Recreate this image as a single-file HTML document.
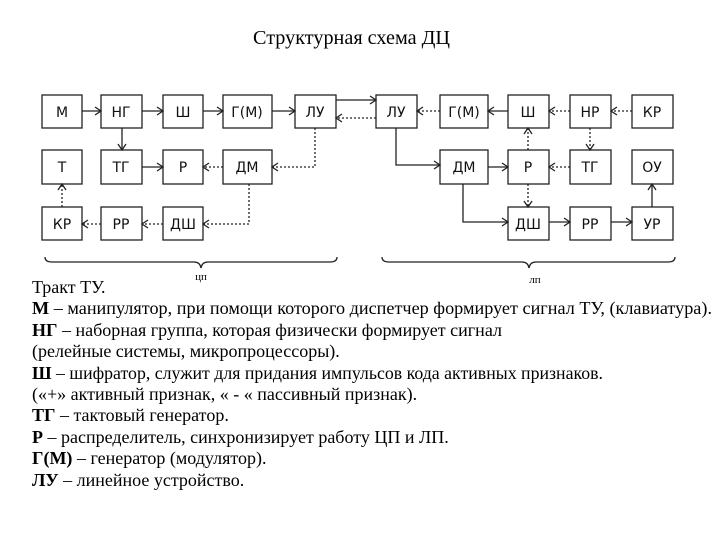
<!DOCTYPE html>
<html><head><meta charset="utf-8"><style>
html,body{margin:0;padding:0;background:#fff;}
svg{display:block;}
.b{fill:#fff;stroke:#222;stroke-width:1.3;}
.l{font-family:"DejaVu Sans","Liberation Sans",sans-serif;font-size:14px;fill:#111;text-anchor:middle;}
.s{stroke:#222;stroke-width:1.3;fill:none;}
.d{stroke:#222;stroke-width:1.3;fill:none;stroke-dasharray:2,2;}
.t{font-family:"Liberation Serif",serif;font-size:18px;fill:#000;}
</style></head><body>
<svg width="720" height="540" xmlns="http://www.w3.org/2000/svg">
<defs>
<marker id="a" markerWidth="10" markerHeight="10" refX="8" refY="5" orient="auto" markerUnits="userSpaceOnUse">
<path d="M2,1 L8,5 L2,9" fill="none" stroke="#222" stroke-width="1.3"/></marker>
</defs>
<text x="253" y="44" class="t" style="font-size:19.5px" textLength="197" lengthAdjust="spacingAndGlyphs">Структурная схема ДЦ</text>
<g>
<rect class="b" x="42" y="95" width="40" height="33"/><text class="l" x="62" y="117">М</text>
<rect class="b" x="101" y="95" width="41" height="33"/><text class="l" x="121" y="117">НГ</text>
<rect class="b" x="163" y="95" width="40" height="33"/><text class="l" x="183" y="117">Ш</text>
<rect class="b" x="223" y="95" width="49" height="33"/><text class="l" x="247" y="117">Г(М)</text>
<rect class="b" x="295" y="95" width="41" height="33"/><text class="l" x="315" y="117">ЛУ</text>
<rect class="b" x="42" y="150" width="40" height="34"/><text class="l" x="62" y="172">Т</text>
<rect class="b" x="101" y="150" width="41" height="34"/><text class="l" x="121" y="172">ТГ</text>
<rect class="b" x="163" y="150" width="40" height="34"/><text class="l" x="183" y="172">Р</text>
<rect class="b" x="223" y="150" width="49" height="34"/><text class="l" x="247" y="172">ДМ</text>
<rect class="b" x="42" y="207" width="40" height="33"/><text class="l" x="62" y="229">КР</text>
<rect class="b" x="101" y="207" width="41" height="33"/><text class="l" x="121" y="229">РР</text>
<rect class="b" x="163" y="207" width="40" height="33"/><text class="l" x="183" y="229">ДШ</text>
</g>
<g>
<rect class="b" x="376" y="95" width="41" height="33"/><text class="l" x="396" y="117">ЛУ</text>
<rect class="b" x="440" y="95" width="48" height="33"/><text class="l" x="464" y="117">Г(М)</text>
<rect class="b" x="508" y="95" width="41" height="33"/><text class="l" x="528" y="117">Ш</text>
<rect class="b" x="570" y="95" width="41" height="33"/><text class="l" x="590" y="117">НР</text>
<rect class="b" x="632" y="95" width="41" height="33"/><text class="l" x="652" y="117">КР</text>
<rect class="b" x="440" y="150" width="48" height="34"/><text class="l" x="464" y="172">ДМ</text>
<rect class="b" x="508" y="150" width="41" height="34"/><text class="l" x="528" y="172">Р</text>
<rect class="b" x="570" y="150" width="41" height="34"/><text class="l" x="590" y="172">ТГ</text>
<rect class="b" x="632" y="150" width="41" height="34"/><text class="l" x="652" y="172">ОУ</text>
<rect class="b" x="508" y="207" width="41" height="33"/><text class="l" x="528" y="229">ДШ</text>
<rect class="b" x="570" y="207" width="41" height="33"/><text class="l" x="590" y="229">РР</text>
<rect class="b" x="632" y="207" width="41" height="33"/><text class="l" x="652" y="229">УР</text>
</g>
<path class="s" d="M82,111 L101,111" marker-end="url(#a)"/>
<path class="s" d="M142,111 L163,111" marker-end="url(#a)"/>
<path class="s" d="M203,111 L223,111" marker-end="url(#a)"/>
<path class="s" d="M272,111 L295,111" marker-end="url(#a)"/>
<path class="s" d="M122,128 L122,150" marker-end="url(#a)"/>
<path class="s" d="M142,167 L163,167" marker-end="url(#a)"/>
<path class="d" d="M223,167 L203,167" marker-end="url(#a)"/>
<path class="d" d="M315,128 L315,167 L272,167" marker-end="url(#a)"/>
<path class="d" d="M249,184 L249,224 L203,224" marker-end="url(#a)"/>
<path class="d" d="M163,224 L142,224" marker-end="url(#a)"/>
<path class="d" d="M101,224 L82,224" marker-end="url(#a)"/>
<path class="d" d="M62,207 L62,184" marker-end="url(#a)"/>
<path class="s" d="M336,100 L376,100" marker-end="url(#a)"/>
<path class="d" d="M376,118 L336,118" marker-end="url(#a)"/>
<path class="d" d="M440,111 L417,111" marker-end="url(#a)"/>
<path class="s" d="M508,111 L488,111" marker-end="url(#a)"/>
<path class="d" d="M570,111 L549,111" marker-end="url(#a)"/>
<path class="d" d="M632,111 L611,111" marker-end="url(#a)"/>
<path class="d" d="M590,128 L590,150" marker-end="url(#a)"/>
<path class="d" d="M570,167 L549,167" marker-end="url(#a)"/>
<path class="d" d="M528,150 L528,128" marker-end="url(#a)"/>
<path class="s" d="M488,167 L508,167" marker-end="url(#a)"/>
<path class="d" d="M528,184 L528,207" marker-end="url(#a)"/>
<path class="s" d="M396,128 L396,165 L440,165" marker-end="url(#a)"/>
<path class="s" d="M463,184 L463,222 L508,222" marker-end="url(#a)"/>
<path class="s" d="M549,222 L570,222" marker-end="url(#a)"/>
<path class="s" d="M611,222 L632,222" marker-end="url(#a)"/>
<path class="s" d="M652,207 L652,184" marker-end="url(#a)"/>
<path class="s" d="M45,257 Q45,262 52,262 L194,262 Q200,262 201,268 Q202,262 208,262 L330,262 Q337,262 337,257"/>
<path class="s" d="M382,257 Q382,262 389,262 L522,262 Q528,262 529,268 Q530,262 536,262 L668,262 Q675,262 675,257"/>
<text x="201" y="280" class="t" text-anchor="middle" style="font-size:11px">цп</text>
<text x="535" y="283" class="t" text-anchor="middle" style="font-size:11px">лп</text>
<text class="t" x="32" y="293">Тракт ТУ.</text>
<text class="t" x="32" y="314" textLength="680" lengthAdjust="spacingAndGlyphs"><tspan font-weight="bold">М</tspan> – манипулятор, при помощи которого диспетчер формирует сигнал ТУ, (клавиатура).</text>
<text class="t" x="32" y="336" textLength="470" lengthAdjust="spacingAndGlyphs"><tspan font-weight="bold">НГ</tspan> – наборная группа, которая физически формирует сигнал</text>
<text class="t" x="32" y="357">(релейные системы, микропроцессоры).</text>
<text class="t" x="32" y="379" textLength="571" lengthAdjust="spacingAndGlyphs"><tspan font-weight="bold">Ш</tspan> – шифратор, служит для придания импульсов кода активных признаков.</text>
<text class="t" x="32" y="400">(«+» активный признак, « - « пассивный признак).</text>
<text class="t" x="32" y="421"><tspan font-weight="bold">ТГ</tspan> – тактовый генератор.</text>
<text class="t" x="32" y="443"><tspan font-weight="bold">Р</tspan> – распределитель, синхронизирует работу ЦП и ЛП.</text>
<text class="t" x="32" y="464"><tspan font-weight="bold">Г(М)</tspan> – генератор (модулятор).</text>
<text class="t" x="32" y="486"><tspan font-weight="bold">ЛУ</tspan> – линейное устройство.</text>
</svg>
</body></html>
